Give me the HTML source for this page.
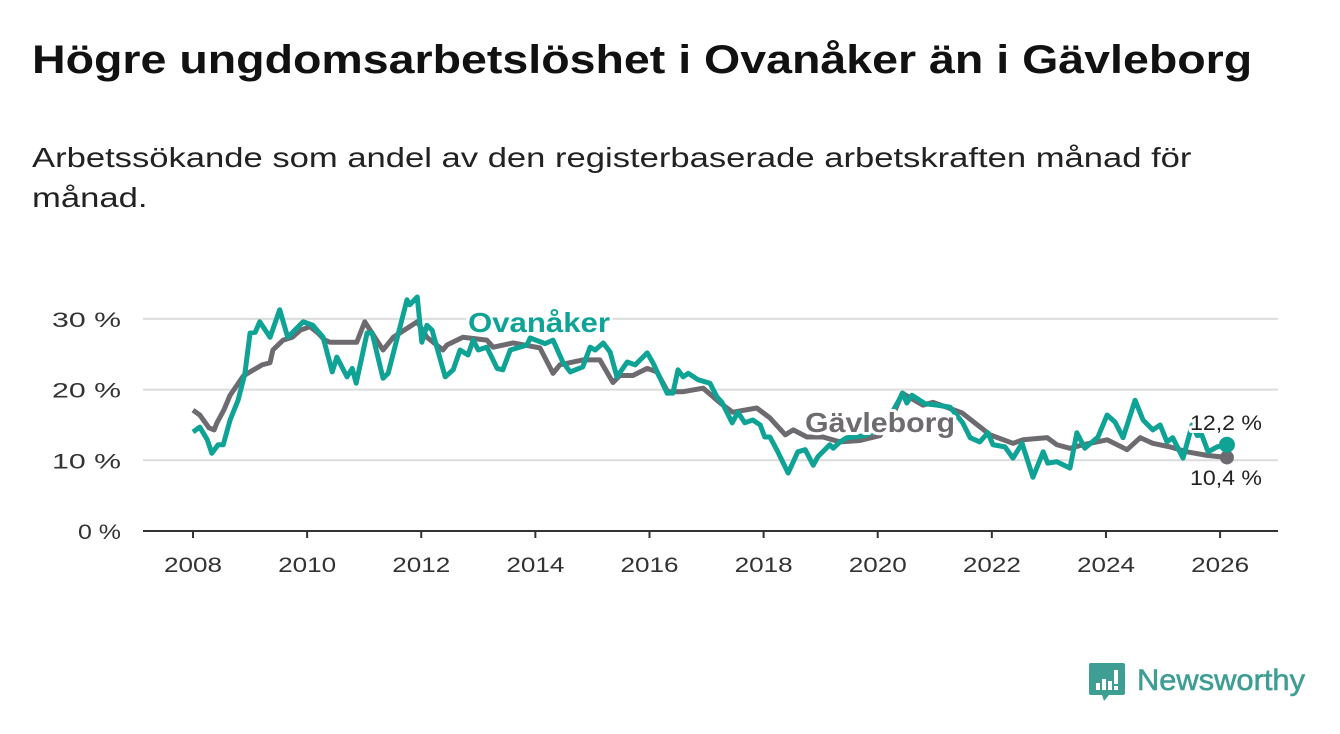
<!DOCTYPE html>
<html><head><meta charset="utf-8">
<style>
body{margin:0;background:#fff;width:1340px;height:734px;overflow:hidden;font-family:"Liberation Sans",sans-serif;}
#title{position:absolute;left:32px;top:38px;font-size:40px;font-weight:bold;color:#111;margin:0;white-space:nowrap;transform-origin:0 0;}
.sl{position:absolute;left:32px;font-size:28px;color:#222;white-space:nowrap;transform-origin:0 0;}
svg{position:absolute;left:0;top:0;}
</style></head><body>
<h1 id="title">Högre ungdomsarbetslöshet i Ovanåker än i Gävleborg</h1>
<div>
<div class="sl" id="s1" style="top:142px">Arbetssökande som andel av den registerbaserade arbetskraften månad för</div>
<div class="sl" id="s2" style="top:182px">månad.</div>
</div>
<svg id="chart" width="1340" height="734"></svg>
<script>
const gavDates=[2008,2008.12,2008.28,2008.37,2008.42,2008.54,2008.65,2008.88,2009,2009.21,2009.35,2009.4,2009.58,2009.74,2009.88,2010.05,2010.19,2010.31,2010.4,2010.87,2011.01,2011.33,2011.51,2011.93,2012.1,2012.38,2012.45,2012.73,2013.15,2013.26,2013.61,2014.08,2014.31,2014.43,2014.83,2015.13,2015.36,2015.48,2015.71,2015.96,2016.13,2016.32,2016.59,2016.94,2017.24,2017.46,2017.88,2018.11,2018.38,2018.52,2018.76,2019.04,2019.34,2019.69,2020.04,2020.3,2020.43,2020.79,2020.97,2021.21,2021.48,2021.97,2022.37,2022.55,2022.97,2023.14,2023.37,2023.6,2024.02,2024.37,2024.6,2024.82,2025.12,2025.42,2025.77,2026.12];
const gavValues=[17.1,16.4,14.6,14.3,15.3,17.1,19.2,21.9,22.5,23.5,23.8,25.6,27,27.4,28.4,28.9,28,27,26.7,26.7,29.6,25.6,27.4,29.6,27.4,25.6,26.3,27.4,27,26,26.6,25.9,22.3,23.5,24.2,24.2,21,22,22,23,22.5,19.7,19.7,20.2,18.1,16.8,17.4,16,13.6,14.3,13.3,13.3,12.6,12.8,13.5,17,19.5,17.8,18.2,17.5,16.7,13.6,12.4,12.9,13.2,12.2,11.7,12.2,12.9,11.5,13.2,12.4,11.9,11.2,10.7,10.4];
const ovaDates=[2008,2008.12,2008.25,2008.33,2008.44,2008.53,2008.65,2008.79,2008.91,2009,2009.09,2009.17,2009.35,2009.52,2009.66,2009.82,2009.93,2010.1,2010.28,2010.44,2010.52,2010.7,2010.79,2010.86,2011.05,2011.14,2011.33,2011.42,2011.75,2011.8,2011.93,2012.01,2012.1,2012.19,2012.42,2012.56,2012.68,2012.82,2012.91,2013,2013.15,2013.33,2013.43,2013.56,2013.85,2013.91,2014.17,2014.31,2014.48,2014.61,2014.83,2014.96,2015.05,2015.19,2015.31,2015.43,2015.61,2015.75,2015.96,2016.06,2016.31,2016.41,2016.5,2016.59,2016.68,2016.85,2017.06,2017.18,2017.27,2017.45,2017.55,2017.67,2017.81,2017.94,2018.02,2018.11,2018.23,2018.43,2018.6,2018.73,2018.87,2018.95,2019.16,2019.22,2019.34,2019.46,2019.78,2020.04,2020.27,2020.44,2020.51,2020.6,2020.83,2021.04,2021.27,2021.49,2021.62,2021.79,2021.93,2022.02,2022.23,2022.37,2022.53,2022.72,2022.9,2022.98,2023.14,2023.37,2023.49,2023.63,2023.86,2024.02,2024.16,2024.3,2024.51,2024.65,2024.82,2024.95,2025.07,2025.17,2025.35,2025.51,2025.6,2025.68,2025.79,2025.95,2026.12];
const ovaValues=[14,14.7,12.9,11,12.2,12.2,15.7,18.5,22.3,28,28.1,29.6,27.4,31.3,27.4,28.7,29.6,29.1,27.4,22.5,24.6,21.8,23,20.9,28,28,21.6,22.3,32.7,32,33.1,26.7,29.1,28.4,21.8,22.8,25.6,24.9,27,25.6,26,23,22.8,25.6,26.3,27.3,26.5,27,23.9,22.5,23.2,26,25.6,26.6,25.3,21.8,23.9,23.5,25.2,23.8,19.5,19.5,22.8,21.8,22.3,21.4,20.9,19,18.2,15.3,16.8,15.3,15.7,15,13.3,13.3,11.5,8.2,11.2,11.5,9.3,10.5,12.2,11.7,12.6,13.2,13.5,14.5,17,19.5,18.1,19.2,18,17.8,17.5,15.3,13.2,12.6,13.9,12.2,11.9,10.3,12.4,7.6,11.2,9.6,9.8,8.9,13.9,11.7,13.3,16.4,15.4,13.2,18.5,15.7,14.3,15,12.6,13.2,10.3,15,13.5,13.6,11.2,11.9,12.2];
const yTicks=[0,10,20,30];
const yTickLabels=["0 %","10 %","20 %","30 %"];
const xTicks=[2008,2010,2012,2014,2016,2018,2020,2022,2024,2026];

function fit(id,w){const e=document.getElementById(id);e.style.transform='scaleX('+(w/e.scrollWidth)+')';}
fit('title',1220);fit('s1',1160);fit('s2',115);

const NS="http://www.w3.org/2000/svg";
const svg=document.getElementById('chart');
const X=d=>193+(d-2008)*57.06;
const Y=v=>531-v*7.07;
function mk(tag,attrs,parent){const e=document.createElementNS(NS,tag);for(const k in attrs)e.setAttribute(k,attrs[k]);(parent||svg).appendChild(e);return e;}

yTicks.forEach((t,i)=>{
  if(t>0){const g=mk('line',{x1:143,x2:1278,y1:Y(t),y2:Y(t),stroke:'#dcdcdc','stroke-width':2});
  
  }
  const lab=yTickLabels[i];
  const tx=mk('text',{x:121,y:Y(t)+8,'text-anchor':'end','font-size':21,fill:'#333',textLength:lab.length>3?69:43,lengthAdjust:'spacingAndGlyphs'});
  tx.textContent=lab;
  
  
});
const ax=mk('line',{x1:143,x2:1278,y1:531,y2:531,stroke:'#333','stroke-width':2});


xTicks.forEach(t=>{
  const tk=mk('line',{x1:X(t),x2:X(t),y1:531,y2:538,stroke:'#333','stroke-width':2});
  
  
  const tx=mk('text',{x:X(t),y:572,'text-anchor':'middle','font-size':21,fill:'#333',textLength:58,lengthAdjust:'spacingAndGlyphs'});
  tx.textContent=t;
  
  
});
function line(dates,vals,color,name){
  const p=mk('polyline',{points:dates.map((d,i)=>X(d)+','+Y(vals[i])).join(' '),fill:'none',stroke:color,'stroke-width':5,'stroke-linejoin':'round'});
  
  
}
line(gavDates,gavValues,'#6e6b70','gavleborg-line');
line(ovaDates,ovaValues,'#0fa396','ovanaker-line');
const gd=mk('circle',{cx:X(gavDates[gavDates.length-1]),cy:Y(gavValues[gavValues.length-1]),r:7,fill:'#6e6b70'});


const od=mk('circle',{cx:X(ovaDates[ovaDates.length-1]),cy:Y(ovaValues[ovaValues.length-1]),r:8,fill:'#0fa396'});


function label(x,y,txt,color,size,bold,w,name){
  const t=mk('text',{x:x,y:y,'font-size':size,'font-weight':bold?'bold':'normal',fill:color,stroke:'#fff','stroke-width':6,'paint-order':'stroke','stroke-linejoin':'round',textLength:w,lengthAdjust:'spacingAndGlyphs'});
  t.textContent=txt;
  
  
}
label(468,332,'Ovanåker','#0fa396',28,true,142,'ovanaker-label');
label(805,432,'Gävleborg','#6e6b70',28,true,150,'gavleborg-label');
label(1190,430,'12,2 %','#222',21,false,72,'ovanaker-end-value');
label(1190,485,'10,4 %','#222',21,false,72,'gavleborg-end-value');
</script>
<svg width="1340" height="734" style="pointer-events:none">
  <path d="M1091 663 h32 a2 2 0 0 1 2 2 v28 a2 2 0 0 1 -2 2 h-14 l-5 6 l-2 -6 h-11 a2 2 0 0 1 -2 -2 v-28 a2 2 0 0 1 2 -2z" fill="#3f9e93"/>
  <rect x="1096" y="683" width="4" height="7" fill="#fff"/><rect x="1102" y="679" width="4" height="11" fill="#fff"/><rect x="1108" y="681" width="4" height="9" fill="#fff"/><rect x="1114" y="670" width="4" height="14" fill="#fff"/><rect x="1114" y="686" width="4" height="4" fill="#fff"/>
  <text x="1137" y="690" font-size="30" fill="#3f9e93" stroke="#3f9e93" stroke-width="0.6" textLength="168" lengthAdjust="spacingAndGlyphs" font-family="Liberation Sans, sans-serif">Newsworthy</text>
</svg>
</body></html>
